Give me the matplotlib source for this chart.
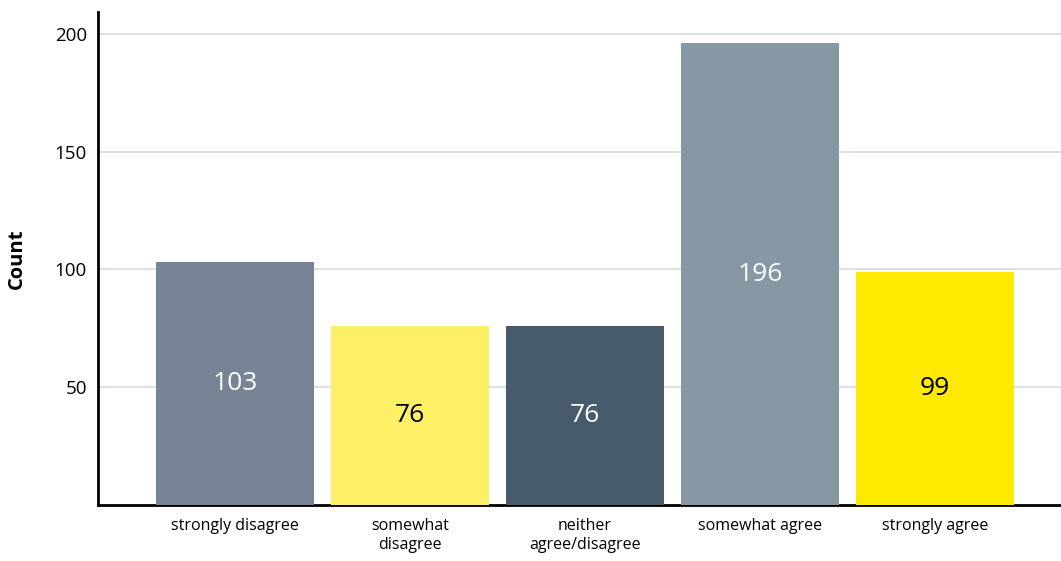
import matplotlib.pyplot as plt

plt.rcParams['font.family'] = ['Open Sans', 'DejaVu Sans']

categories = ["strongly disagree", "somewhat\ndisagree", "neither\nagree/disagree",
              "somewhat agree", "strongly agree"]
counts = [103, 76, 76, 196, 99]
colors = ["#778495", "#fef066", "#475b6c", "#8698a4", "#fdea00"]
label_colors = ["white", "black", "white", "white", "black"]

fig = plt.figure(figsize=(10.61, 5.61), dpi=100)
ax = fig.add_axes([0.0924, 0.0998, 0.9076, 0.8788])

x_pos = list(range(len(categories)))
ax.bar(x_pos, counts, width=0.9, color=colors, zorder=3)

for i, v in enumerate(counts):
    ax.text(i, v / 2, str(v), ha='center', va='center', fontsize=19,
            color=label_colors[i], zorder=4)

ax.set_xlim(-0.783, 4.72)
ax.set_ylim(0, 209.3)
ax.set_yticks([50, 100, 150, 200])
ax.set_xticks(x_pos)
ax.set_xticklabels(categories, fontsize=11.5, linespacing=1.25)
ax.tick_params(axis='y', labelsize=13.5, length=0, pad=8)
ax.tick_params(axis='x', length=0, pad=9)
ax.grid(axis='y', color='#dde1e6', linewidth=1.5, zorder=0)

ax.spines['top'].set_visible(False)
ax.spines['right'].set_visible(False)
ax.spines['left'].set_linewidth(2)
ax.spines['bottom'].set_linewidth(2)

ax.set_ylabel("Count", fontsize=14.5, fontweight='bold', labelpad=20)

plt.savefig("out.png", dpi=100)
